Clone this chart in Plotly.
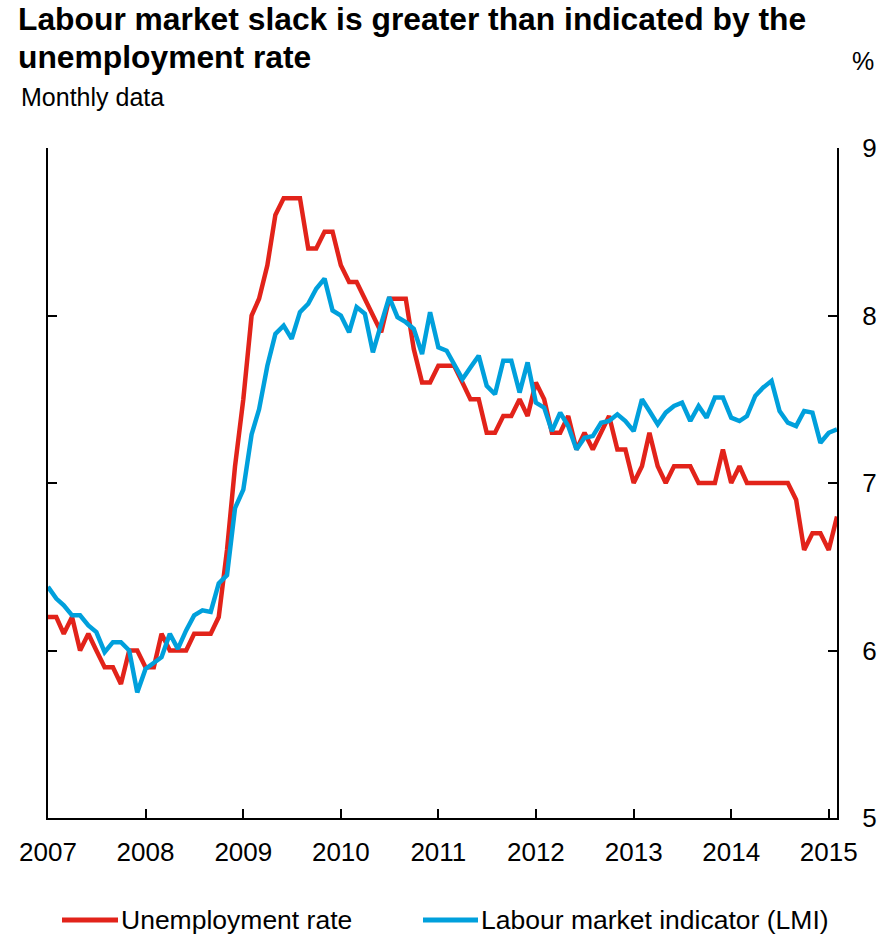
import pandas as pd
import plotly.graph_objects as go

dates = pd.date_range("2007-01-01", "2015-02-01", freq="MS")

unemployment = [
    6.2, 6.2, 6.1, 6.2, 6.0, 6.1, 6.0, 5.9, 5.9, 5.8, 6.0, 6.0,
    5.9, 5.9, 6.1, 6.0, 6.0, 6.0, 6.1, 6.1, 6.1, 6.2, 6.6, 7.1,
    7.5, 8.0, 8.1, 8.3, 8.6, 8.7, 8.7, 8.7, 8.4, 8.4, 8.5, 8.5,
    8.3, 8.2, 8.2, 8.1, 8.0, 7.9, 8.1, 8.1, 8.1, 7.8, 7.6, 7.6,
    7.7, 7.7, 7.7, 7.6, 7.5, 7.5, 7.3, 7.3, 7.4, 7.4, 7.5, 7.4,
    7.6, 7.5, 7.3, 7.3, 7.4, 7.2, 7.3, 7.2, 7.3, 7.4, 7.2, 7.2,
    7.0, 7.1, 7.3, 7.1, 7.0, 7.1, 7.1, 7.1, 7.0, 7.0, 7.0, 7.2,
    7.0, 7.1, 7.0, 7.0, 7.0, 7.0, 7.0, 7.0, 6.9, 6.6, 6.7, 6.7,
    6.6, 6.8,
]

lmi = [
    6.38, 6.31, 6.27, 6.21, 6.21, 6.15, 6.11, 5.99, 6.05, 6.05, 6.00, 5.75,
    5.89, 5.93, 5.96, 6.10, 6.01, 6.12, 6.21, 6.24, 6.23, 6.40, 6.45, 6.85,
    6.96, 7.29, 7.44, 7.70, 7.89, 7.94, 7.86, 8.02, 8.07, 8.16, 8.22, 8.03,
    8.00, 7.90, 8.05, 8.01, 7.78, 7.95, 8.11, 7.99, 7.96, 7.92, 7.77, 8.02,
    7.81, 7.79, 7.71, 7.62, 7.69, 7.76, 7.58, 7.53, 7.73, 7.73, 7.54, 7.72,
    7.48, 7.45, 7.31, 7.42, 7.34, 7.20, 7.27, 7.28, 7.36, 7.37, 7.41, 7.37,
    7.31, 7.50, 7.43, 7.35, 7.42, 7.46, 7.48, 7.37, 7.46, 7.39, 7.51, 7.51,
    7.39, 7.37, 7.40, 7.52, 7.57, 7.61, 7.43, 7.36, 7.34, 7.43, 7.42, 7.24,
    7.30, 7.32,
]

series_names = ["Unemployment rate", "Labour market indicator (LMI)"]
year_ticks = [f"{y}-01-01" for y in range(2007, 2016)]
year_labels = [str(y) for y in range(2007, 2016)]
y_ticks = [5, 6, 7, 8, 9]

RED = "#E2231A"
BLUE = "#00A0DC"
FONT = "Liberation Sans, Arial, sans-serif"

W, H = 895, 935
L, R, T, B = 48, 58, 148, 117
PW, PH = W - L - R, H - T - B


def px(x):
    return (x - L) / PW


def py(y):
    return (H - B - y) / PH


fig = go.Figure()
fig.add_trace(go.Scatter(x=dates, y=unemployment, mode="lines", name=series_names[0],
                         line=dict(color=RED, width=4.5), showlegend=False))
fig.add_trace(go.Scatter(x=dates, y=lmi, mode="lines", name=series_names[1],
                         line=dict(color=BLUE, width=4.5), showlegend=False))

legend_y = 920
shapes = [
    dict(type="line", xref="paper", yref="paper", x0=px(62), x1=px(118), y0=py(legend_y), y1=py(legend_y),
         line=dict(color=RED, width=5)),
    dict(type="line", xref="paper", yref="paper", x0=px(423), x1=px(478), y0=py(legend_y), y1=py(legend_y),
         line=dict(color=BLUE, width=5)),
]

annotations = [
    dict(text="<b>Labour market slack is greater than indicated by the</b>", xref="paper", yref="paper",
         x=px(16), y=py(19), xanchor="left", yanchor="middle", showarrow=False, font=dict(size=31.8)),
    dict(text="<b>unemployment rate</b>", xref="paper", yref="paper",
         x=px(16), y=py(57), xanchor="left", yanchor="middle", showarrow=False, font=dict(size=31.8)),
    dict(text="%", xref="paper", yref="paper",
         x=px(863), y=py(61), xanchor="center", yanchor="middle", showarrow=False, font=dict(size=25)),
    dict(text="Monthly data", xref="paper", yref="paper",
         x=px(19), y=py(97), xanchor="left", yanchor="middle", showarrow=False, font=dict(size=25)),
    dict(text=series_names[0], xref="paper", yref="paper",
         x=px(119), y=py(legend_y), xanchor="left", yanchor="middle", showarrow=False, font=dict(size=26.5)),
    dict(text=series_names[1], xref="paper", yref="paper",
         x=px(479), y=py(legend_y), xanchor="left", yanchor="middle", showarrow=False, font=dict(size=26.5)),
]

fig.update_layout(
    width=W, height=H,
    margin=dict(l=L, r=R, t=T, b=B, autoexpand=False),
    paper_bgcolor="white", plot_bgcolor="white",
    font=dict(family=FONT, size=26, color="black"),
    showlegend=False,
    xaxis=dict(
        range=["2007-01-01", "2015-02-01"],
        tickmode="array", tickvals=year_ticks, ticktext=year_labels,
        ticks="inside", ticklen=9, tickwidth=1.5, tickcolor="black",
        showline=True, linecolor="black", linewidth=2,
        showgrid=False, zeroline=False, ticklabelstandoff=10,
        tickfont=dict(size=26),
    ),
    yaxis=dict(
        range=[5, 9], side="right",
        tickmode="array", tickvals=y_ticks,
        ticks="inside", ticklen=9, tickwidth=1.5, tickcolor="black",
        showline=True, linecolor="black", linewidth=2, mirror="ticks",
        showgrid=False, zeroline=False, ticklabelstandoff=18,
        tickfont=dict(size=26),
    ),
    shapes=shapes,
    annotations=annotations,
)

fig.write_html("out.html", config={"displayModeBar": False},
               post_script="document.body.style.margin='0';")
